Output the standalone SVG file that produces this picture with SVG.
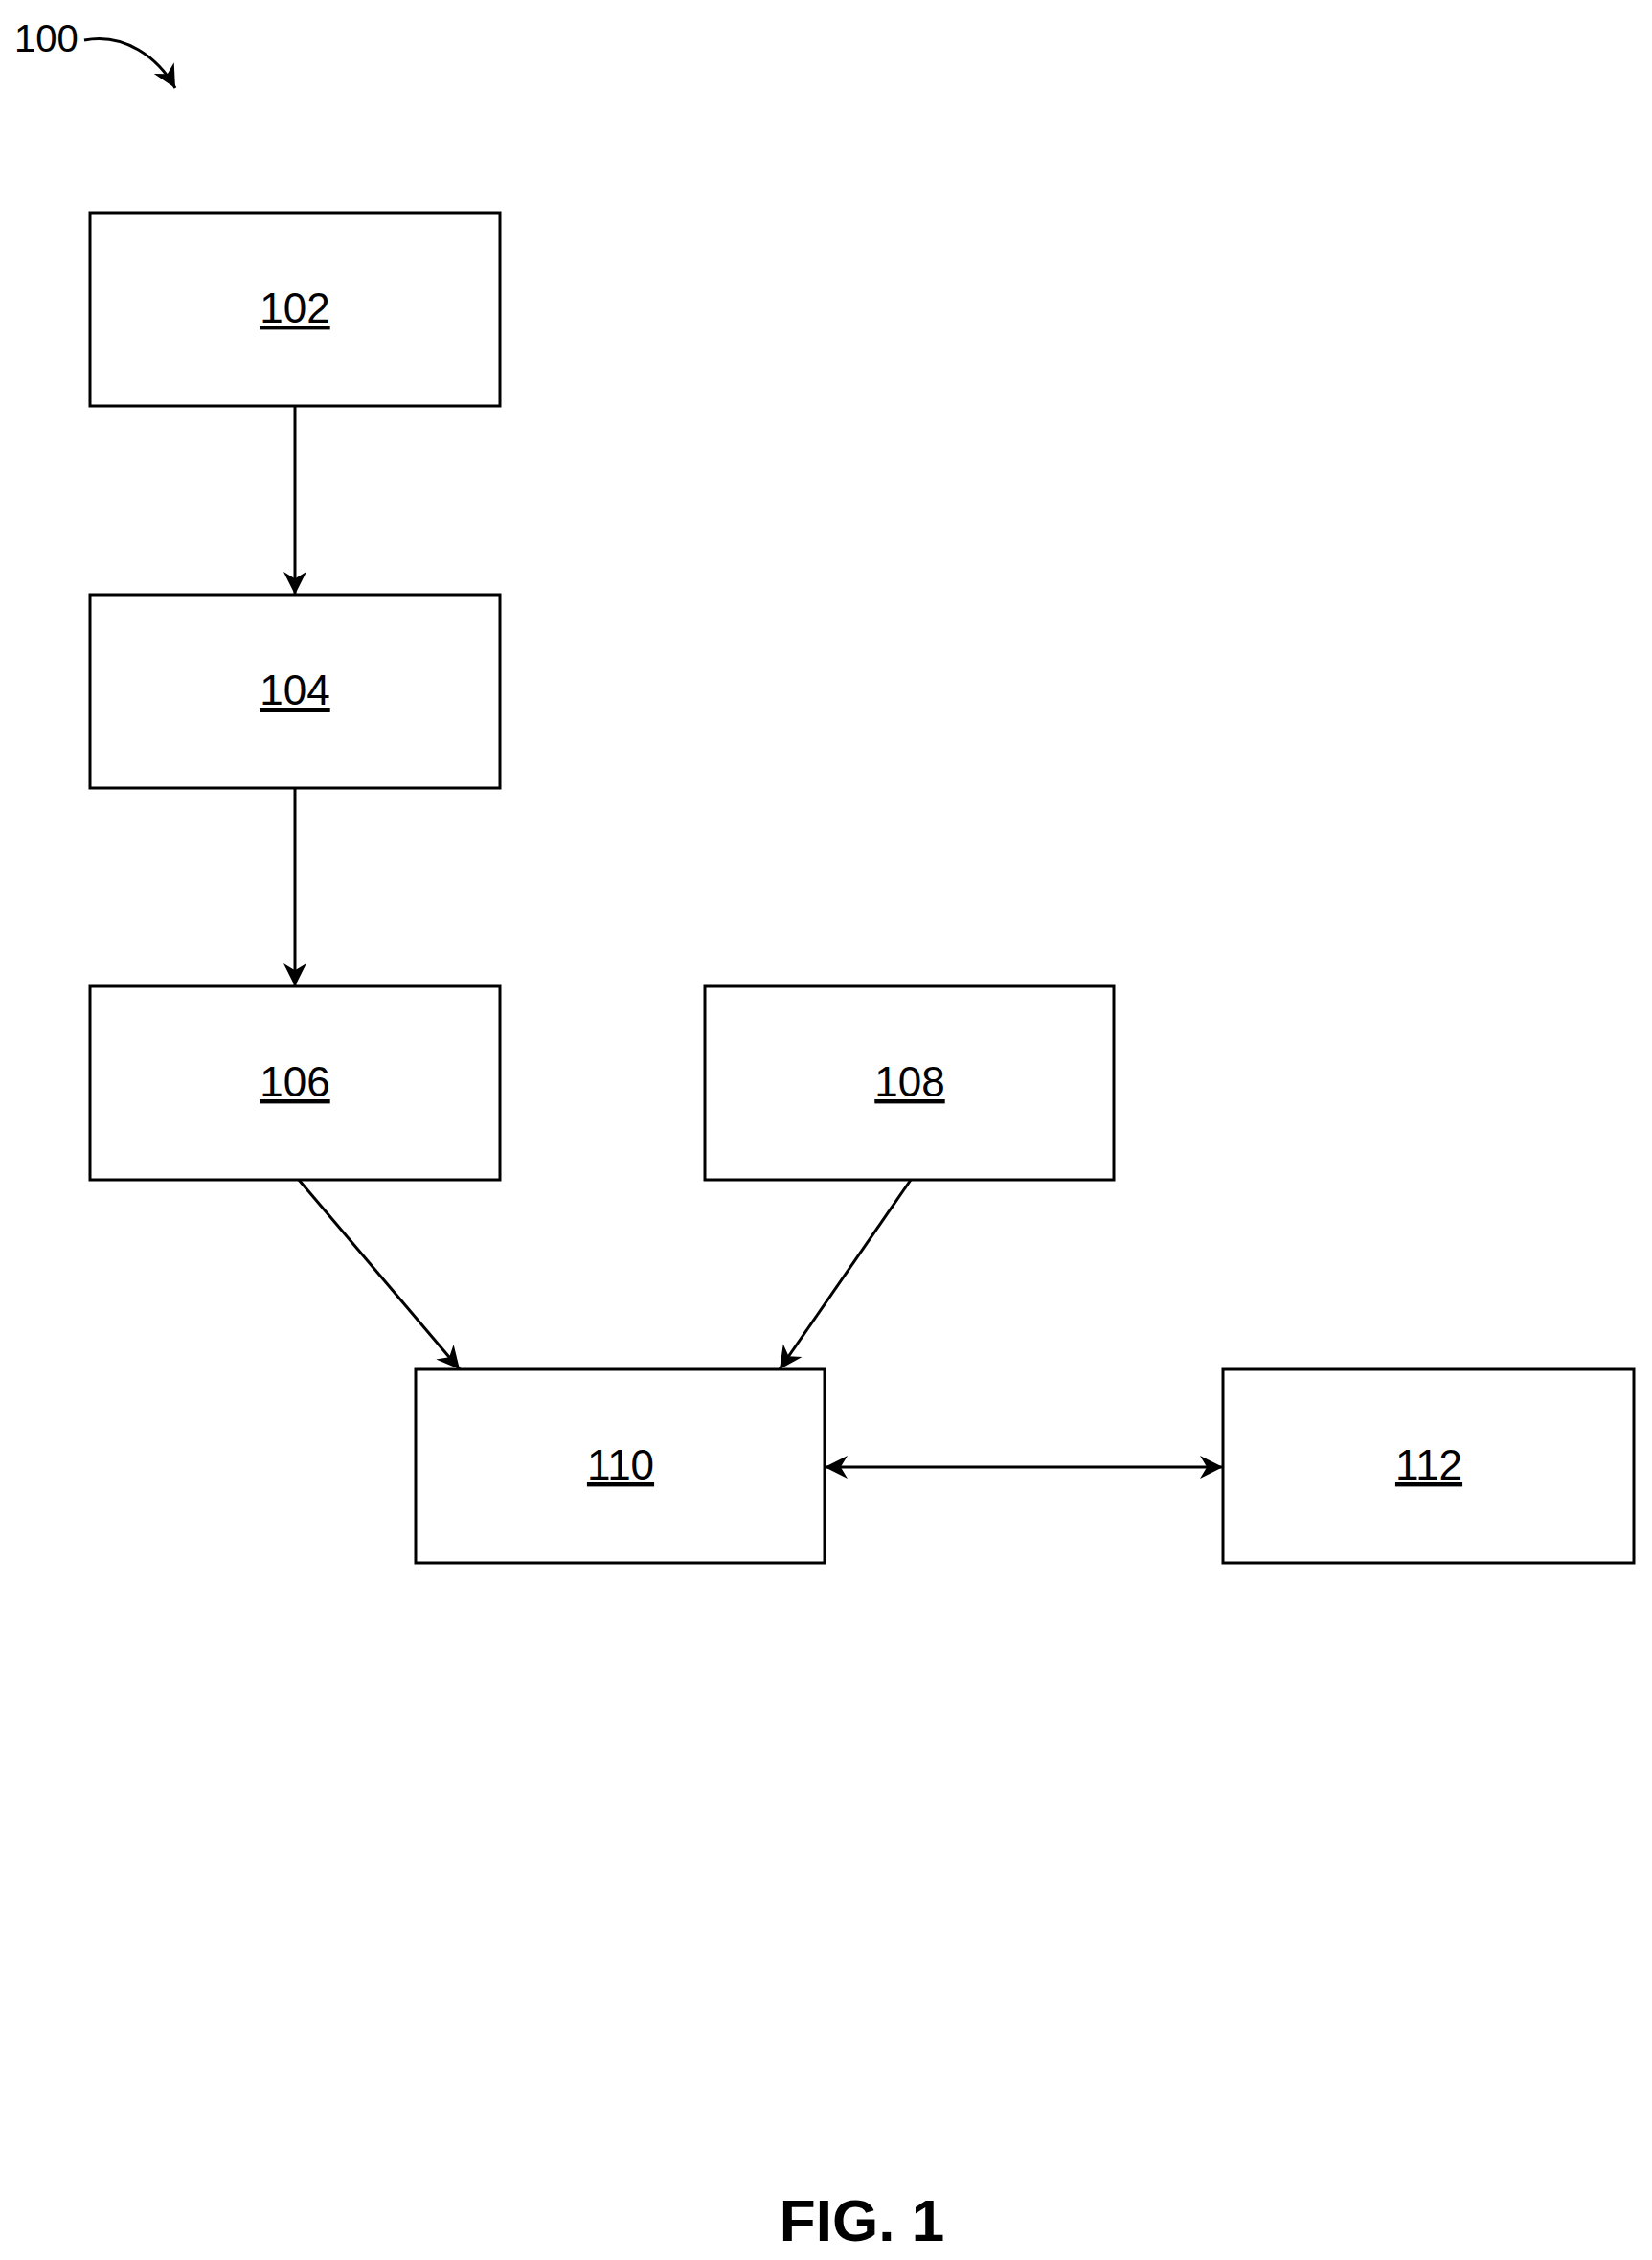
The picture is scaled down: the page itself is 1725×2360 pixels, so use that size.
<svg xmlns="http://www.w3.org/2000/svg" width="1725" height="2360" viewBox="0 0 1725 2360">
<style>
.box{fill:#fff;stroke:#000;stroke-width:3}
.lbl{font-family:"Liberation Sans",Arial,sans-serif;font-size:44px;text-anchor:middle;text-decoration:underline}
.c{stroke:#000;stroke-width:3;fill:none}
</style>
<defs>
<marker id="a" viewBox="0 0 10 10" refX="10" refY="5" markerWidth="10" markerHeight="10" orient="auto-start-reverse" markerUnits="userSpaceOnUse" style="overflow:visible">
<path d="M0,0 L10,5 L0,10 L3,5 z" fill="#000" transform="translate(10,5) scale(2.4) translate(-10,-5)"/>
</marker>
</defs>
<rect width="1725" height="2360" fill="#fff"/>
<g id="ref100">
<text x="15" y="54" font-family="Liberation Sans,Arial,sans-serif" font-size="40">100</text>
<path class="c" d="M88,42 C130,34 165,60 183,92" marker-end="url(#a)"/>
</g>
<g id="n102"><rect class="box" x="94" y="222" width="428" height="202"/><text class="lbl" x="308" y="337">102</text></g>
<g id="n104"><rect class="box" x="94" y="621" width="428" height="202"/><text class="lbl" x="308" y="736">104</text></g>
<g id="n106"><rect class="box" x="94" y="1030" width="428" height="202"/><text class="lbl" x="308" y="1145">106</text></g>
<g id="n108"><rect class="box" x="736" y="1030" width="427" height="202"/><text class="lbl" x="950" y="1145">108</text></g>
<g id="n110"><rect class="box" x="434" y="1430" width="427" height="202"/><text class="lbl" x="648" y="1545">110</text></g>
<g id="n112"><rect class="box" x="1277" y="1430" width="429" height="202"/><text class="lbl" x="1492" y="1545">112</text></g>
<g id="connectors">
<line class="c" x1="308" y1="424" x2="308" y2="621" marker-end="url(#a)"/>
<line class="c" x1="312" y1="1232" x2="480" y2="1430" marker-end="url(#a)"/>
<line class="c" x1="308" y1="823" x2="308" y2="1030" marker-end="url(#a)"/>
<line class="c" x1="951" y1="1232" x2="814" y2="1430" marker-end="url(#a)"/>
<line class="c" x1="861" y1="1532" x2="1277" y2="1532" marker-start="url(#a)" marker-end="url(#a)"/>
</g>
<text x="900" y="2340" font-family="Liberation Sans,Arial,sans-serif" font-size="62" font-weight="bold" text-anchor="middle">FIG. 1</text>
</svg>
